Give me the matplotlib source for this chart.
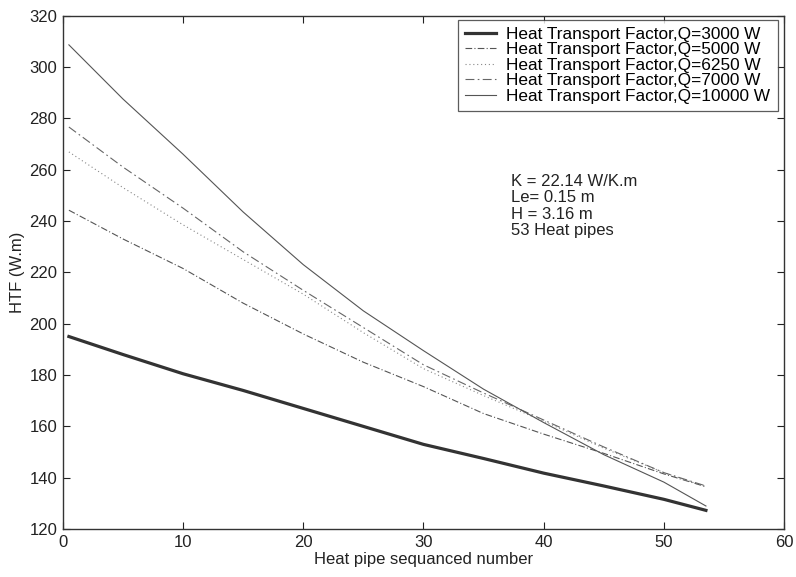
import numpy as np
import matplotlib.pyplot as plt

plt.rcParams['font.family'] = ['Liberation Sans', 'DejaVu Sans']

# heat pipe sequence positions where values were read
pipe_no = [0.5, 5, 10, 15, 20, 25, 30, 35, 40, 45, 50, 53.5]

htf_3000 = [195, 188, 180.5, 174, 167, 160, 153, 147.5, 141.8, 136.8, 131.6, 127.3]
htf_5000 = [244.2, 233, 221.5, 208, 196, 185, 175.5, 165, 157, 149.5, 141.5, 136.5]
htf_6250 = [266.9, 253, 238.5, 225, 211.5, 196.5, 182.5, 172, 162, 151.5, 142, 136.5]
htf_7000 = [276.6, 261, 245, 228, 213, 198.5, 184, 173, 162.5, 152, 142, 136.8]
htf_10000 = [308.6, 287.5, 266, 243.5, 223, 205, 189.5, 174.5, 161.5, 149, 138.3, 129]

labels = ["Heat Transport Factor,Q=3000 W",
          "Heat Transport Factor,Q=5000 W",
          "Heat Transport Factor,Q=6250 W",
          "Heat Transport Factor,Q=7000 W",
          "Heat Transport Factor,Q=10000 W"]

fig = plt.figure(figsize=(7.96, 5.77), dpi=100)
ax = fig.add_axes([0.079, 0.083, 0.906, 0.89])

ax.plot(pipe_no, htf_3000, color="#333333", linewidth=2.3, label=labels[0])
ax.plot(pipe_no, htf_5000, color="#555555", linewidth=0.8,
        dashes=[6, 2, 1, 2], label=labels[1])
ax.plot(pipe_no, htf_6250, color="#888888", linewidth=0.8,
        dashes=[1, 2.5], label=labels[2])
ax.plot(pipe_no, htf_7000, color="#666666", linewidth=0.8,
        dashes=[8, 3, 1.5, 3], label=labels[3])
ax.plot(pipe_no, htf_10000, color="#555555", linewidth=0.8, label=labels[4])

ax.set_xlim(0, 60)
ax.set_ylim(120, 320)
ax.set_xticks(np.arange(0, 61, 10))
ax.set_yticks(np.arange(120, 321, 20))
ax.tick_params(direction='in', top=True, right=True, length=5,
               labelsize=12, colors='#222222', pad=4)
for s in ax.spines.values():
    s.set_color('#333333')
    s.set_linewidth(1.0)

ax.set_xlabel("Heat pipe sequanced number", fontsize=12, color='#222222', labelpad=2)
ax.set_ylabel("HTF (W.m)", fontsize=12, color='#222222', labelpad=3)

leg = ax.legend(loc='upper right', bbox_to_anchor=(0.991, 0.992), fontsize=12.4,
                frameon=True, fancybox=False, borderaxespad=0.0,
                handlelength=1.8, labelspacing=0.02, borderpad=0.42,
                handletextpad=0.6)
leg.get_frame().set_edgecolor('#333333')
leg.get_frame().set_linewidth(0.9)

ax.text(0.621, 0.692, "K = 22.14 W/K.m\nLe= 0.15 m\nH = 3.16 m\n53 Heat pipes",
        transform=ax.transAxes, va='top', ha='left', fontsize=12,
        color='#222222', linespacing=1.12)

fig.savefig("out.png", dpi=100)
